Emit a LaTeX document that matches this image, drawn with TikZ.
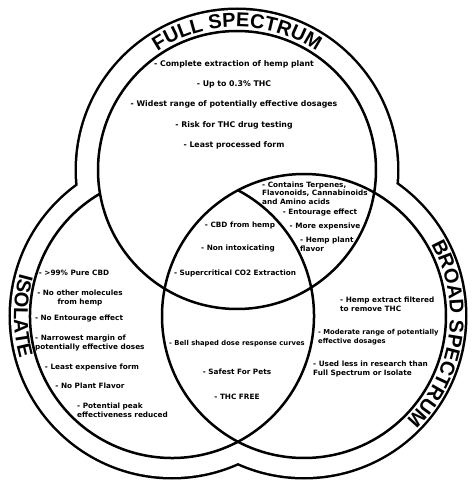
\documentclass[tikz,border=0pt]{standalone}
\usepackage{fontspec}
\setmainfont{DejaVu Sans}
\newfontfamily\titlefont{Liberation Sans}
\usetikzlibrary{positioning, decorations.text}

\newcommand{\bandtitle}{\titlefont\bfseries\fontsize{20}{20}\selectfont}
\newcommand{\bodytext}{\bfseries\fontsize{7.3}{8.7}\selectfont}
\newcommand{\listtext}{\bfseries\fontsize{7.8}{9}\selectfont}

\begin{document}
\begin{tikzpicture}[
    x=1pt, y=1pt,
    node distance=12.5pt,
    rim/.style={line width=5pt},
    ring/.style={line width=2.5pt},
    entry/.style={font=\listtext, inner sep=0pt, text height=5.8pt, text depth=1.7pt},
    item/.style={font=\bodytext, align=center, inner sep=0pt},
    itemleft/.style={item, align=left, anchor=west},
    narrow/.style={font=\bfseries\fontsize{6.8}{8.5}\selectfont},
    bandtext/.style={decorate, decoration={text along path, text align=center, text={|\bandtitle|#1}}}
]
    \useasboundingbox (0,0) rectangle (474,480);

    % centres of the three circles
    \coordinate (cfull) at (237,310);
    \coordinate (ciso) at (172,164);
    \coordinate (cbroad) at (304,164);

    % outer edge of the bands
    \draw[rim] (cfull) circle (160) (ciso) circle (161) (cbroad) circle (161);
    \fill[white] (cfull) circle (160) (ciso) circle (161) (cbroad) circle (161);

    % inner circles
    \draw[ring] (cfull) circle (139);
    \draw[ring] (cbroad) circle (142);
    \draw[ring] ([shift={(120.4:142)}]ciso) arc[start angle=120.4, end angle=422.3, radius=142];

    % band titles
    \path[bandtext={FULL SPECTRUM}] ([shift={(160:143)}]cfull) arc[start angle=160, end angle=20, radius=143];
    \path[bandtext={ISOLATE}] ([shift={(120:158)}]ciso) arc[start angle=120, end angle=240, radius=158];
    \path[bandtext={BROAD SPECTRUM}] ([shift={(62:146)}]cbroad) arc[start angle=62, end angle=-78, radius=146];

    % full spectrum
    \node[entry] (full1) at (234,416) {- Complete extraction of hemp plant};
    \node[entry, below=of full1] (full2) {- Up to 0.3\% THC};
    \node[entry, below=of full2] (full3) {- Widest range of potentially effective dosages};
    \node[entry, below=of full3] (full4) {- Risk for THC drug testing};
    \node[entry, below=of full4] (full5) {- Least processed form};

    % full and broad
    \node[itemleft] (fb1) at (262,287) {- Contains Terpenes,\\Flavonoids, Cannabinoids\\and Amino acids};
    \node[item] (fb2) at (320,267) {- Entourage effect};
    \node[item] (fb3) at (325,254) {- More expensive};
    \node[itemleft] (fb4) at (300,236) {- Hemp plant\\flavor};

    % all three
    \node[item] (all1) at (240,255) {- CBD from hemp};
    \node[item] (all2) at (238,231) {- Non intoxicating};
    \node[item] (all3) at (235,207) {- Supercritical CO2 Extraction};

    % isolate
    \node[item] (iso1) at (74,207) {- >99\% Pure CBD};
    \node[item] (iso2) at (80,182) {- No other molecules\\from hemp};
    \node[item] (iso3) at (79,161) {- No Entourage effect};
    \node[itemleft] (iso4) at (35,137) {- Narrowest margin of\\potentially effective doses};
    \node[item] (iso5) at (92,113) {- Least expensive form};
    \node[item] (iso6) at (90,94) {- No Plant Flavor};
    \node[itemleft] (iso7) at (77,70) {- Potential peak\\effectiveness reduced};

    % isolate and broad
    \node[item, narrow] (ib1) at (237,136) {- Bell shaped dose response curves};
    \node[item] (ib2) at (237,108) {- Safest For Pets};
    \node[item] (ib3) at (237,83) {- THC FREE};

    % broad spectrum
    \node[itemleft] (broad1) at (340,176) {- Hemp extract filtered\\to remove THC};
    \node[itemleft, narrow] (broad2) at (318,143) {- Moderate range of potentially\\effective dosages};
    \node[itemleft] (broad3) at (313,111) {- Used less in research than\\Full Spectrum or Isolate};
\end{tikzpicture}
\end{document}
